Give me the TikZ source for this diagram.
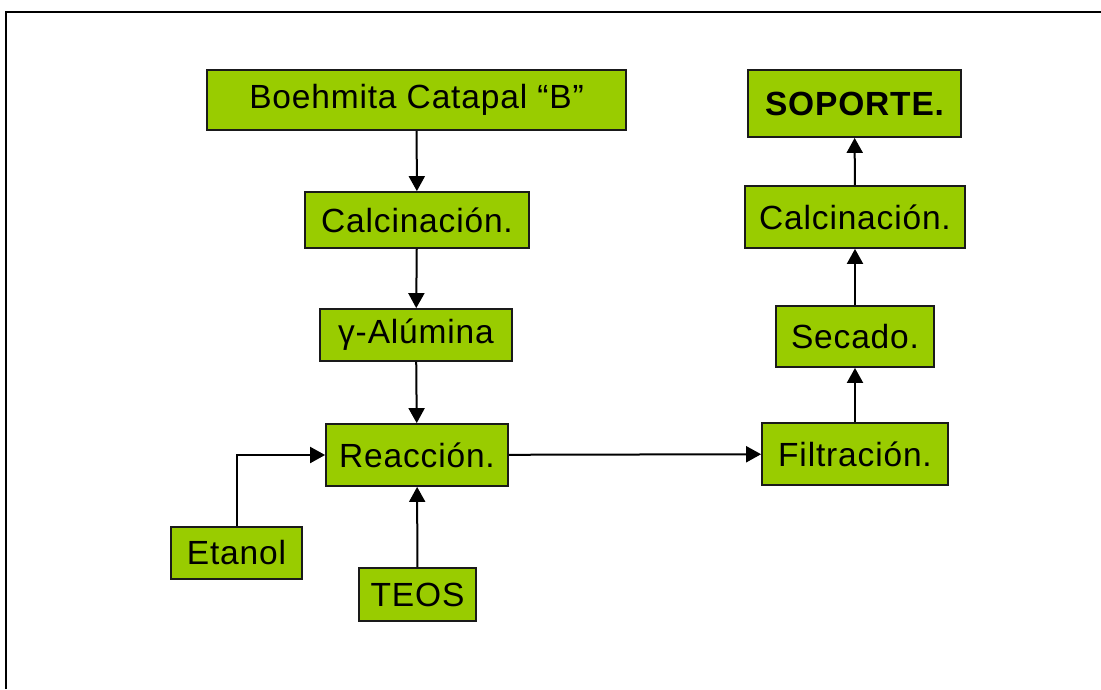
\documentclass[tikz,border=0pt]{standalone}
\usepackage{fontspec}
\setmainfont[LetterSpace=2.5]{Liberation Sans}
\usetikzlibrary{arrows.meta}
\definecolor{boxgreen}{HTML}{99CC00}
\definecolor{boxedge}{HTML}{1A1A1A}
\tikzset{
  stepbox/.style={draw=boxedge, line width=1.8pt, fill=boxgreen, inner sep=0pt,
    font=\fontsize{33.5}{39}\selectfont, text=black, anchor=center},
  flow/.style={line width=2pt, -{Triangle[width=16pt,length=15pt]}},
}
\newcommand{\stepnode}[6]{% name, x1, y1, x2, y2, text
  \node[stepbox, minimum width={#4-#2}, minimum height={#5-#3}] (#1) at ({(#2+#4)/2},{(#3+#5)/2}) {#6};}
\begin{document}
\begin{tikzpicture}[x=1pt,y=-1pt]
  \useasboundingbox (0,0) rectangle (1101,689);
  \fill[white] (0,0) rectangle (1101,689);
  % frame: top and left edges
  \draw[line width=2.2pt, black] (6,689) -- (6,12) -- (1101,12);

  % left column
  \stepnode{boe}{207}{70}{626}{130}{Boehmita Catapal “B”}
  \stepnode{calA}{305}{192}{529}{248}{Calcinación.}
  \stepnode{alu}{320}{309}{512}{361}{γ-Alúmina}
  \stepnode{reac}{326}{424}{508}{486}{Reacción.}
  \stepnode{eta}{171}{527}{302}{579}{Etanol}
  \stepnode{teos}{359}{568}{476}{621}{TEOS}

  % right column
  \stepnode{sop}{748}{70}{961}{137}{\bfseries SOPORTE.}
  \stepnode{calB}{745}{186}{965}{248}{Calcinación.}
  \stepnode{sec}{776}{306}{934}{367}{Secado.}
  \stepnode{fil}{762}{423}{948}{485}{Filtración.}

  % connectors
  \draw[flow] (boe) -- (calA);
  \draw[flow] (calA) -- (alu);
  \draw[flow] (alu) -- (reac);
  \draw[flow] (teos) -- (reac);
  \draw[flow] (eta.north) |- (reac.west);
  \draw[flow] (reac) -- (fil);
  \draw[flow] (fil) -- (sec);
  \draw[flow] (sec) -- (calB);
  \draw[flow] (calB) -- (sop);
\end{tikzpicture}
\end{document}
